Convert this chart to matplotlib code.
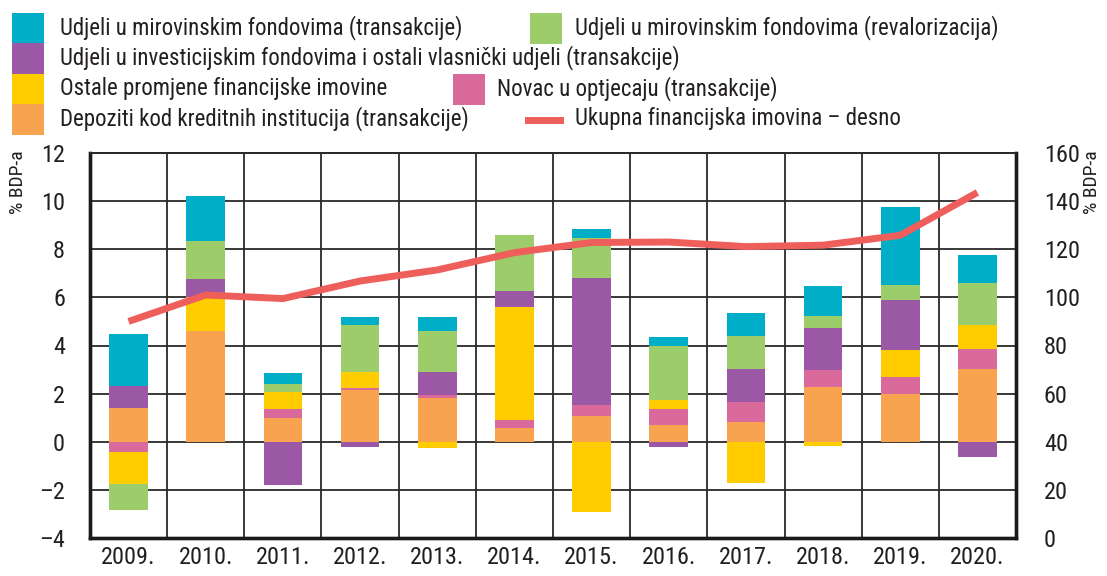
import numpy as np
import matplotlib
matplotlib.use("Agg")
import matplotlib.pyplot as plt
from matplotlib import font_manager
from matplotlib.patches import Rectangle
from matplotlib.lines import Line2D

# pick a narrow font if one is installed
fonts = font_manager.fontManager.ttflist
narrow = None
for f in fonts:
    if f.name in ('Liberation Sans Narrow', 'Roboto Condensed', 'Open Sans Condensed', 'DejaVu Sans Condensed'):
        narrow = (f.name, 'normal')
        break
if narrow is None:
    for f in fonts:
        if f.name == 'DejaVu Sans' and str(f.stretch) in ('condensed', 'semi-condensed'):
            narrow = ('DejaVu Sans', 'condensed')
            break
if narrow is None:
    narrow = ('DejaVu Sans', 'normal')
    scale = 0.85
else:
    scale = 1.0

plt.rcParams['font.family'] = [narrow[0], 'DejaVu Sans']
plt.rcParams['font.stretch'] = narrow[1]

years = ['2009.', '2010.', '2011.', '2012.', '2013.', '2014.', '2015.', '2016.', '2017.', '2018.', '2019.', '2020.']

depoziti = [1.42, 4.59, 0.97, 2.15, 1.83, 0.59, 1.08, 0.69, 0.83, 2.29, 2.00, 3.04]
novac = [-0.44, 0.00, 0.41, 0.08, 0.10, 0.32, 0.46, 0.66, 0.83, 0.68, 0.68, 0.83]
ostale = [-1.31, 1.42, 0.70, 0.67, -0.28, 4.69, -2.90, 0.37, -1.70, -0.17, 1.13, 0.99]
investicijski = [0.90, 0.76, -1.78, -0.20, 0.98, 0.68, 5.26, -0.23, 1.35, 1.75, 2.10, -0.65]
mirovinski_reval = [-1.10, 1.57, 0.33, 1.94, 1.68, 2.31, 1.66, 2.28, 1.38, 0.50, 0.61, 1.74]
mirovinski_trans = [2.14, 1.86, 0.43, 0.35, 0.60, 0.00, 0.37, 0.36, 0.97, 1.27, 3.22, 1.16]
ukupna = [90, 101, 99.5, 106.8, 111.4, 118.6, 122.8, 123, 121.1, 121.7, 125.8, 143.6]

c_teal = '#00AEC7'
c_green = '#9DCD6A'
c_purple = '#9B59A5'
c_yellow = '#FFCC00'
c_pink = '#DA6A9C'
c_orange = '#F7A350'
c_red = '#EE5F5B'
txt = '#231F20'

series = [
    (depoziti, c_orange),
    (novac, c_pink),
    (ostale, c_yellow),
    (investicijski, c_purple),
    (mirovinski_reval, c_green),
    (mirovinski_trans, c_teal),
]

fig = plt.figure(figsize=(11.07, 5.76), dpi=100)
ax = fig.add_axes([90 / 1107, 1 - 538 / 576, 926 / 1107, 385 / 576])

x = np.arange(len(years))
pos_bottom = np.zeros(len(years))
neg_bottom = np.zeros(len(years))
for vals, col in series:
    v = np.array(vals)
    bottom = np.where(v >= 0, pos_bottom, neg_bottom)
    ax.bar(x, v, width=0.5, bottom=bottom, color=col, zorder=3, linewidth=0)
    pos_bottom += np.where(v >= 0, v, 0)
    neg_bottom += np.where(v < 0, v, 0)

tick_fs = 17.5 * scale
ax.set_xlim(-0.5, len(years) - 0.5)
ax.set_ylim(-4, 12)
ax.set_yticks(np.arange(-4, 13, 2))
ax.set_yticklabels(['\u20134', '\u20132', '0', '2', '4', '6', '8', '10', '12'])
ax.set_xticks(x)
ax.set_xticklabels(years)
ax.set_xticks(np.arange(0.5, len(years) - 1, 1), minor=True)
ax.grid(axis='y', which='major', color='#2a2a2a', linewidth=1.3, zorder=1)
ax.grid(axis='x', which='minor', color='#2a2a2a', linewidth=1.3, zorder=1)
ax.tick_params(axis='both', which='both', length=0, labelsize=tick_fs, colors=txt)
ax.tick_params(axis='y', pad=18)
ax.tick_params(axis='x', pad=6)

ax2 = ax.twinx()
ax2.plot(x, ukupna, color=c_red, linewidth=5, solid_joinstyle='round', solid_capstyle='butt', zorder=5)
ax2.set_ylim(0, 160)
ax2.set_yticks(np.arange(0, 161, 20))
ax2.tick_params(axis='y', length=0, labelsize=tick_fs, colors=txt, pad=20)

for a in (ax, ax2):
    for s in ['left', 'bottom', 'right']:
        a.spines[s].set_linewidth(2.4)
        a.spines[s].set_color('#1a1a1a')
    a.spines['top'].set_linewidth(1.3)
    a.spines['top'].set_color('#2a2a2a')

fig.text(18 / 1107, 1 - 150 / 576, '% BDP-a', rotation=90, ha='center', va='top', fontsize=14 * scale, color=txt)
fig.text(1092 / 1107, 1 - 150 / 576, '% BDP-a', rotation=90, ha='center', va='top', fontsize=14 * scale, color=txt)

# legend
W, H = 1107, 576
legend_items = [
    (12, 13, 'patch', c_teal, 60, 'Udjeli u mirovinskim fondovima (transakcije)'),
    (530, 13, 'patch', c_green, 575, 'Udjeli u mirovinskim fondovima (revalorizacija)'),
    (12, 43, 'patch', c_purple, 60, 'Udjeli u investicijskim fondovima i ostali vlasnički udjeli (transakcije)'),
    (12, 74, 'patch', c_yellow, 60, 'Ostale promjene financijske imovine'),
    (453, 74, 'patch', c_pink, 497, 'Novac u optjecaju (transakcije)'),
    (12, 104, 'patch', c_orange, 60, 'Depoziti kod kreditnih institucija (transakcije)'),
    (528, 104, 'line', c_red, 575, 'Ukupna financijska imovina \u2013 desno'),
]
for px, py, kind, col, tx, label in legend_items:
    if kind == 'patch':
        fig.add_artist(Rectangle((px / W, 1 - (py + 31) / H), 32 / W, 31 / H,
                                 transform=fig.transFigure, color=col, linewidth=0))
    else:
        yy = 1 - (py + 16) / H
        fig.add_artist(Line2D([px / W, (px + 32) / W], [yy, yy], transform=fig.transFigure,
                              color=col, linewidth=5))
    fig.text(tx / W, 1 - (py + 15) / H, label, ha='left', va='center', fontsize=16.5 * scale, color=txt)

fig.savefig('out.png', dpi=100)
